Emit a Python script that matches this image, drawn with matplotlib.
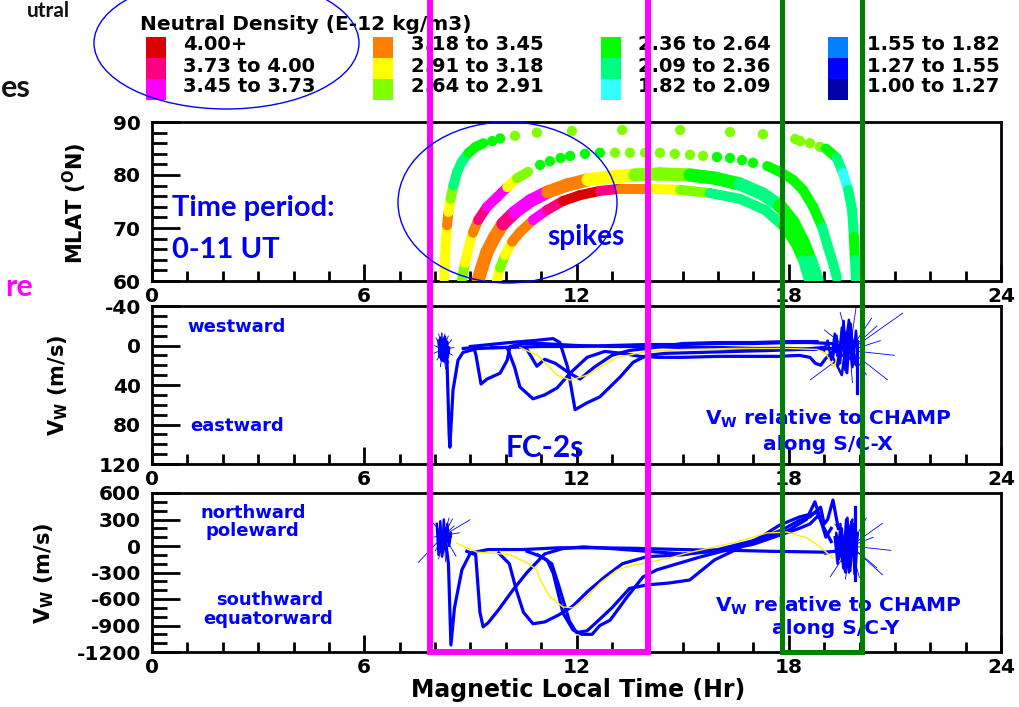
import numpy as np
import matplotlib
matplotlib.use("Agg")
from matplotlib import pyplot as plt
from matplotlib.colors import ListedColormap, BoundaryNorm
from matplotlib.collections import LineCollection
from matplotlib.patches import Ellipse
from matplotlib.ticker import MultipleLocator

# ---------------- density legend ----------------
dens_bounds = [1.00, 1.27, 1.55, 1.82, 2.09, 2.36, 2.64, 2.91, 3.18, 3.45, 3.73, 4.00, 99.0]
dens_colors = ['#0000AA', '#0000FF', '#0080FF', '#33FFFF', '#00FF80', '#00FF00',
               '#80FF00', '#FFFF00', '#FF8000', '#FF00FF', '#FF0080', '#DD0000']
dens_labels = ['1.00 to 1.27', '1.27 to 1.55', '1.55 to 1.82', '1.82 to 2.09',
               '2.09 to 2.36', '2.36 to 2.64', '2.64 to 2.91', '2.91 to 3.18',
               '3.18 to 3.45', '3.45 to 3.73', '3.73 to 4.00', '4.00+']

# ---------------- panel 1: passes (MLT hr, MLAT deg, density E-12 kg/m3) ----------------
# pass A (outermost)
a_leg1_mlt = [8.26, 8.27, 8.29, 8.31, 8.34, 8.38, 8.44, 8.52, 8.62, 8.76, 8.95, 9.15, 9.37]
a_leg1_lat = [60.5, 63.0, 65.5, 68.0, 70.5, 73.0, 75.5, 78.0, 80.5, 82.5, 84.2, 85.3, 86.0]
a_leg1_den = [3.0, 3.0, 3.0, 3.0, 3.3, 3.0, 2.75, 2.2, 2.2, 2.2, 2.5, 2.5, 2.5]
a_dots_mlt = [9.62, 9.84, 10.26, 10.88, 11.87, 13.29, 14.93, 16.34, 17.27, 18.18, 18.32, 18.60, 18.88]
a_dots_lat = [86.4, 86.9, 87.4, 88.0, 88.3, 88.5, 88.5, 88.1, 87.7, 86.8, 86.4, 86.0, 85.3]
a_dots_den = [2.5, 2.5, 2.75, 2.75, 2.75, 2.75, 2.75, 2.75, 2.75, 2.75, 2.75, 2.75, 2.75]
a_leg2_mlt = [19.05, 19.17, 19.36, 19.53, 19.68, 19.79, 19.84, 19.87, 19.90]
a_leg2_lat = [85.0, 84.3, 83.2, 80.4, 77.2, 73.4, 68.3, 64.0, 60.2]
a_leg2_den = [2.5, 2.5, 2.2, 1.95, 2.2, 2.2, 2.5, 2.2, 2.2]
# pass B
b_leg1_mlt = [8.76, 8.85, 8.93, 9.07, 9.22, 9.47, 9.75, 10.04, 10.32, 10.63]
b_leg1_lat = [60.2, 63.4, 65.8, 69.1, 71.5, 74.0, 75.8, 77.7, 79.4, 80.6]
b_leg1_den = [2.75, 3.0, 3.0, 3.3, 3.85, 3.6, 3.6, 3.0, 2.75, 2.75]
b_dots_mlt = [10.97, 11.25, 11.55, 11.82, 12.24, 12.66, 13.09, 13.51, 13.94, 14.36, 14.78,
              15.21, 15.58, 15.97, 16.34, 16.68, 16.99]
b_dots_lat = [81.9, 82.6, 83.2, 83.6, 84.0, 84.2, 84.2, 84.2, 84.2, 84.2, 84.0,
              83.8, 83.6, 83.4, 83.2, 82.8, 82.3]
b_dots_den = [2.5, 2.5, 2.5, 2.5, 2.5, 2.5, 2.75, 2.75, 2.75, 2.75, 2.75,
              2.75, 2.75, 2.5, 2.5, 2.5, 2.5]
b_leg2_mlt = [17.39, 17.75, 18.12, 18.40, 18.69, 18.94, 19.11, 19.25, 19.36]
b_leg2_lat = [81.7, 80.6, 79.1, 77.2, 74.0, 70.2, 66.4, 63.4, 60.6]
b_leg2_den = [2.5, 2.5, 2.5, 2.5, 2.5, 2.2, 2.2, 2.2, 2.2]
# pass C
c_mlt = [9.22, 9.33, 9.47, 9.67, 9.92, 10.26, 10.69, 11.19, 11.73, 12.33, 12.95, 13.65,
         14.36, 15.21, 15.92, 16.62, 17.27, 17.75, 18.12, 18.40, 18.63, 18.80]
c_lat = [60.2, 62.6, 65.5, 68.1, 70.8, 73.0, 75.1, 76.8, 78.1, 79.1, 79.6, 80.0,
         80.2, 80.0, 79.4, 78.3, 76.4, 74.2, 71.1, 67.4, 63.6, 60.2]
c_den = [3.3, 3.3, 3.3, 3.3, 3.85, 3.6, 3.6, 3.3, 3.3, 3.0, 3.0, 2.75,
         2.75, 2.5, 2.5, 2.2, 2.2, 2.5, 2.5, 2.5, 2.2, 2.2]
# pass D (spikes)
d_mlt = [9.75, 9.84, 9.98, 10.18, 10.40, 10.77, 11.17, 11.62, 12.10, 12.66, 13.23, 14.08,
         14.93, 15.77, 16.62, 17.33, 17.84, 18.18, 18.40, 18.57]
d_lat = [60.2, 62.5, 64.9, 67.4, 69.2, 71.5, 73.4, 75.1, 76.2, 77.0, 77.4, 77.4,
         77.2, 76.6, 75.5, 73.4, 70.4, 67.2, 64.0, 60.2]
d_den = [3.0, 2.75, 3.0, 3.3, 3.3, 3.6, 3.85, 4.1, 4.1, 3.85, 3.3, 3.0,
         2.75, 2.2, 2.2, 2.2, 2.5, 2.5, 2.2, 2.2]

# ---------------- panel 2: Vw along S/C-X (m/s) ----------------
x2_a = [8.25, 8.33, 8.40, 8.42, 8.51, 8.65, 8.79, 9.2, 10.0, 11.0, 12.0, 13.0, 14.0, 15.0, 16.0, 17.0, 18.0, 18.6, 19.2]
v2_a = [3, 5, 90, 103, 45, 15, 7, 3, 2, 1, 1, 0, -1, -1, -2, -2, -3, -3, -2]
x2_b = [8.8, 9.10, 9.16, 9.30, 9.47, 9.84, 10.04, 10.12, 10.5, 11.0, 12.0, 13.0, 14.0, 15.0, 16.0, 17.0, 18.0, 18.7, 19.2]
v2_b = [3, 2, 10, 39, 34, 28, 15, 1, -2, -2, 0, 1, 1, 2, 2, 3, 3, 4, 3]
x2_c = [9.6, 10.04, 10.25, 10.40, 10.77, 11.1, 11.45, 11.82, 12.3, 12.8, 13.3, 13.8, 14.3, 15.0,
        16.0, 17.0, 17.7, 18.3, 18.6, 18.75, 18.9, 19.05, 19.2, 19.3]
v2_c = [2, 2, 22, 42, 54, 50, 43, 28, 12, 6, 8, 11, 12, 12, 11, 11, 11, 10, 12, 18, 20, 13, 8, 6]
x2_d = [9.0, 10.12, 10.8, 11.34, 11.53, 11.75, 11.96, 12.30, 12.66, 13.23, 13.60, 13.99, 14.5, 15.5, 16.5, 17.5, 18.3, 19.0]
v2_d = [1, -3, -5, -7, -3, 22, 65, 58, 52, 32, 17, 10, 8, 7, 6, 5, 4, 2]
x2_e = [10.3, 10.6, 10.88, 11.1, 11.4, 11.8, 12.1, 12.5, 13.0, 13.5, 14.0, 15.0, 16.0, 17.0, 18.0, 18.8]
v2_e = [0, 4, 21, 14, 18, 28, 34, 22, 10, 5, 3, -2, -3, -3, -4, -4]
x2_yel = [10.4, 10.9, 11.45, 11.82, 12.3, 12.66, 13.15, 14.0, 15.0, 16.5, 18.0, 18.8, 19.05, 19.2, 19.3, 19.35]
v2_yel = [2, 10, 30, 35, 30, 22, 12, 6, 4, 3, 3, 4, 8, 18, 22, 12]
# noisy bursts: centre, ray tips, dense scribble
burst2a_c = (8.22, 4)
burst2a_mlt = [7.98, 8.02, 8.10, 8.18, 8.28, 8.38, 8.48, 8.55, 8.50, 8.40, 8.30, 8.15, 8.05, 7.96, 8.20, 8.35]
burst2a_vw = [0, -8, -12, -13, -12, -10, -6, 2, 10, 18, 24, 22, 15, 8, -13, 25]
scrib2a_mlt = [8.10, 8.13, 8.16, 8.19, 8.22, 8.25, 8.28, 8.31, 8.34, 8.37, 8.40, 8.36, 8.30, 8.24, 8.18, 8.12]
scrib2a_vw = [-5, 12, -8, 15, -6, 10, -9, 14, -4, 8, 2, 12, -6, 16, -3, 9]
burst2b_c = (19.73, 5)
burst2b_mlt = [21.23, 20.8, 19.45, 18.6, 19.0, 20.5, 21.0, 19.9, 20.2, 19.6, 20.6, 19.2, 19.8, 20.35]
burst2b_vw = [-33, 35, -34, 35, -16, -20, 10, -38, 30, 28, -5, 20, 38, -28]
scrib2b_mlt = [19.0, 19.1, 19.2, 19.3, 19.4, 19.5, 19.6, 19.7, 19.8, 19.9, 19.95, 19.85, 19.75,
               19.65, 19.55, 19.45, 19.35, 19.25, 19.5, 19.7, 19.9, 19.6, 19.4, 19.8]
scrib2b_vw = [5, -5, 15, -12, 20, -18, 25, -20, 22, -15, 10, 18, -22, 28, -25, 18, -10, 12, 30, -26,
              20, -12, 8, 14]
drop2_mlt = [19.93, 19.93]
drop2_vw = [-5, 48]

# ---------------- panel 3: Vw along S/C-Y (m/s) ----------------
x3_a = [8.30, 8.38, 8.45, 8.55, 8.76, 9.0, 9.5, 10.5, 11.5, 12.5, 13.5, 14.5, 15.5, 16.5, 17.5, 18.3, 19.0, 19.3]
v3_a = [50, -200, -1120, -700, -270, -80, -40, -40, -20, -20, -25, -35, -45, -50, -60, -65, -70, -60]
x3_b = [8.9, 9.15, 9.27, 9.36, 9.5, 9.8, 10.2, 10.6, 11.1, 11.6, 12.2, 13.0, 14.0, 15.0, 16.0, 17.0, 17.8, 18.3, 18.6, 18.8]
v3_b = [-60, -100, -750, -915, -870, -720, -500, -300, -90, -30, -10, -30, -60, -90, -60, 20, 130, 200, 250, 330]
x3_c = [9.8, 10.1, 10.3, 10.5, 10.77, 11.1, 11.5, 11.9, 12.3, 12.8, 13.3, 14.0, 15.0, 16.0, 17.0, 17.8,
        18.3, 18.6, 18.9, 19.0, 19.1, 19.25, 19.4]
v3_c = [-80, -200, -500, -750, -880, -860, -780, -680, -520, -350, -200, -120, -100, -40, 60, 180,
        290, 330, 440, 250, 300, 520, 200]
x3_d = [10.9, 11.17, 11.34, 11.62, 11.9, 12.15, 12.44, 12.66, 12.95, 13.43, 13.88, 14.27, 14.73, 15.49,
        16.5, 17.4, 18.0, 18.5, 18.74, 18.9, 19.05, 19.2]
v3_d = [-100, -160, -306, -760, -950, -1000, -1000, -900, -840, -577, -350, -270, -215, -125,
        -20, 90, 180, 300, 500, 300, 100, 200]
x3_e = [10.6, 11.0, 11.3, 11.5, 11.8, 12.0, 12.3, 12.6, 13.0, 13.5, 14.0, 14.6, 15.2, 15.9, 16.6, 17.2,
        17.75, 18.3, 18.8, 19.0, 19.2]
v3_e = [-60, -120, -200, -450, -850, -980, -960, -850, -700, -480, -440, -420, -385, -158, -23, 100,
        238, 328, 380, 200, 50]
x3_yel = [8.62, 9.19, 9.64, 10.12, 10.6, 10.88, 10.97, 11.25, 11.62, 11.9, 12.3, 12.66, 13.15, 13.6,
          13.99, 14.73, 15.12, 16.42, 17.38, 17.95, 18.52, 18.88, 19.25]
v3_yel = [30, -70, -80, -100, -190, -270, -380, -577, -690, -700, -577, -420, -270, -215,
          -190, -125, -80, 34, 147, 158, 90, -10, -135]
burst3a_c = (8.25, 120)
burst3a_mlt = [7.52, 9.0, 7.9, 8.5, 8.1, 8.6, 7.95, 8.4, 8.3, 8.7, 8.0, 8.55]
burst3a_vw = [-190, 300, 280, 310, -150, -120, 100, 320, -180, 150, -60, 230]
scrib3a_mlt = [8.05, 8.1, 8.15, 8.2, 8.25, 8.3, 8.35, 8.4, 8.45, 8.4, 8.3, 8.2, 8.1, 8.22, 8.34]
scrib3a_vw = [250, -100, 280, -80, 300, -50, 250, 0, 150, 50, 200, -120, 180, -20, 120]
burst3b_c = (19.75, 0)
burst3b_mlt = [20.66, 20.66, 19.17, 20.0, 20.4, 19.3, 20.9, 19.6, 20.2, 19.0, 20.5, 19.9]
burst3b_vw = [260, -330, -350, -360, 100, 250, -50, -380, 320, -100, -250, 350]
scrib3b_mlt = [19.3, 19.38, 19.46, 19.54, 19.62, 19.7, 19.78, 19.86, 19.94, 19.9, 19.82, 19.74,
               19.66, 19.58, 19.5, 19.42, 19.34, 19.6, 19.8, 19.5, 19.7, 19.9]
scrib3b_vw = [100, -200, 250, -250, 300, -300, 280, -320, 150, -200, 250, -280, 320, -250, 200,
              -150, 150, -300, 300, -100, 180, -60]
drop3_mlt = [19.88, 19.88]
drop3_vw = [440, -385]

# ---------------- figure ----------------
W, H = 1019, 707
plt.rcParams['font.family'] = ['DejaVu Sans']
plt.rcParams['font.weight'] = 'bold'
plt.rcParams['mathtext.fontset'] = 'dejavusans'
plt.rcParams['mathtext.default'] = 'bf'
plt.rcParams['axes.unicode_minus'] = False

fig = plt.figure(figsize=(W / 100, H / 100), dpi=100)
fig.patch.set_facecolor('white')

def fx(x):
    return x / W

def fy(y):
    return 1 - y / H

cmap = ListedColormap(dens_colors)
norm = BoundaryNorm(dens_bounds, cmap.N)
BLUE = '#0000FF'
SLIDE = 'Lato'

def panel(top, bottom, ylo, yhi, major, minor):
    ax = fig.add_axes([fx(152), fy(bottom), (1001 - 152) / W, (bottom - top) / H])
    ax.set_xlim(0, 24)
    ax.set_ylim(ylo, yhi)
    ax.xaxis.set_major_locator(MultipleLocator(6))
    ax.xaxis.set_minor_locator(MultipleLocator(1))
    ax.yaxis.set_major_locator(MultipleLocator(major))
    ax.yaxis.set_minor_locator(MultipleLocator(minor))
    ax.tick_params(which='both', direction='in', width=2, color='black')
    ax.tick_params(axis='x', which='major', length=12, pad=4, labelsize=14.5)
    ax.tick_params(axis='x', which='minor', length=7)
    ax.tick_params(axis='y', which='major', length=20, pad=8, labelsize=14.5)
    ax.tick_params(axis='y', which='minor', length=11)
    for s in ax.spines.values():
        s.set_linewidth(2)
    return ax

def arc(ax, mlt, lat, den, lw):
    pts = np.column_stack([mlt, lat])
    segs = np.stack([pts[:-1], pts[1:]], axis=1)
    lc = LineCollection(segs, colors=cmap(norm(den[:-1])), linewidths=lw,
                        capstyle='round', joinstyle='round', zorder=3)
    ax.add_collection(lc)

def dots(ax, mlt, lat, den):
    ax.scatter(mlt, lat, c=den, cmap=cmap, norm=norm, s=55, linewidths=0, zorder=3)

def burst(ax, centre, tips_x, tips_y, sx, sy):
    segs = [[centre, (tx, ty)] for tx, ty in zip(tips_x, tips_y)]
    ax.add_collection(LineCollection(segs, colors=BLUE, linewidths=0.6, zorder=4))
    ax.plot(sx, sy, color=BLUE, lw=1.8, zorder=4)

# panel 1
ax1 = panel(122, 281, 60, 90, 10, 2)
arc(ax1, a_leg1_mlt, a_leg1_lat, a_leg1_den, 7.2)
dots(ax1, a_dots_mlt, a_dots_lat, a_dots_den)
arc(ax1, a_leg2_mlt, a_leg2_lat, a_leg2_den, 7.2)
arc(ax1, b_leg1_mlt, b_leg1_lat, b_leg1_den, 7.2)
dots(ax1, b_dots_mlt, b_dots_lat, b_dots_den)
arc(ax1, b_leg2_mlt, b_leg2_lat, b_leg2_den, 7.2)
arc(ax1, c_mlt, c_lat, c_den, 9.5)
arc(ax1, d_mlt, d_lat, d_den, 7.2)

# panel 2
ax2 = panel(306, 464, 120, -40, 40, 10)
for xs, vs in [(x2_a, v2_a), (x2_b, v2_b), (x2_c, v2_c), (x2_d, v2_d), (x2_e, v2_e)]:
    ax2.plot(xs, vs, color=BLUE, lw=2.3, solid_joinstyle='round', zorder=3)
ax2.plot(x2_yel, v2_yel, color='#FFEE00', lw=1.0, zorder=5)
burst(ax2, burst2a_c, burst2a_mlt, burst2a_vw, scrib2a_mlt, scrib2a_vw)
burst(ax2, burst2b_c, burst2b_mlt, burst2b_vw, scrib2b_mlt, scrib2b_vw)
ax2.plot(drop2_mlt, drop2_vw, color=BLUE, lw=2.3, zorder=4)

# panel 3
ax3 = panel(493, 652, -1200, 600, 300, 100)
for xs, vs in [(x3_a, v3_a), (x3_b, v3_b), (x3_c, v3_c), (x3_d, v3_d), (x3_e, v3_e)]:
    ax3.plot(xs, vs, color=BLUE, lw=2.3, solid_joinstyle='round', zorder=3)
ax3.plot(x3_yel, v3_yel, color='#FFEE00', lw=1.0, zorder=5)
burst(ax3, burst3a_c, burst3a_mlt, burst3a_vw, scrib3a_mlt, scrib3a_vw)
burst(ax3, burst3b_c, burst3b_mlt, burst3b_vw, scrib3b_mlt, scrib3b_vw)
ax3.plot(drop3_mlt, drop3_vw, color=BLUE, lw=2.3, zorder=4)

# axis labels
fig.text(fx(75), fy(203), r'MLAT ($^{O}$N)', rotation=90, ha='center', va='center', fontsize=15)
fig.text(fx(58), fy(385), r'V$_{W}$ (m/s)', rotation=90, ha='center', va='center', fontsize=15)
fig.text(fx(44), fy(573), r'V$_{W}$ (m/s)', rotation=90, ha='center', va='center', fontsize=15)
fig.text(fx(578), fy(697), 'Magnetic Local Time (Hr)', ha='center', va='baseline', fontsize=17)

# in-panel notes
note = dict(color=BLUE, fontsize=13, va='baseline')
big = dict(color=BLUE, fontsize=14.5, va='baseline')
fig.text(fx(187), fy(332), 'westward', ha='left', **note)
fig.text(fx(190), fy(431), 'eastward', ha='left', **note)
fig.text(fx(828), fy(425), r'V$_{W}$ relative to CHAMP', ha='center', **big)
fig.text(fx(828), fy(450), 'along S/C-X', ha='center', **big)
fig.text(fx(253), fy(518), 'northward', ha='center', **note)
fig.text(fx(252), fy(536), 'poleward', ha='center', **note)
fig.text(fx(270), fy(605), 'southward', ha='center', **note)
fig.text(fx(268), fy(624), 'equatorward', ha='center', **note)
fig.text(fx(838), fy(612), r'V$_{W}$ relative to CHAMP', ha='center', **big)
fig.text(fx(836), fy(634), 'along S/C-Y', ha='center', **big)

# density legend
fig.text(fx(140), fy(29.5), 'Neutral Density (E-12 kg/m3)', ha='left', va='baseline', fontsize=14.5)
col_sw = [146, 373, 601, 828]
col_tx = [183, 411, 638, 867]
row_top = [37, 58, 79]
row_base = [50, 71.5, 92.5]
for k in range(12):
    i = 11 - k
    col, row = k // 3, k % 3
    fig.add_artist(plt.Rectangle((fx(col_sw[col]), fy(row_top[row] + 21)), 20 / W, 21 / H,
                                 transform=fig.transFigure, facecolor=dens_colors[i],
                                 edgecolor='none'))
    fig.text(fx(col_tx[col]), fy(row_base[row]), dens_labels[i], ha='left', va='baseline',
             fontsize=14)

# slide overlay: boxes, ellipses, notes
fig.add_artist(plt.Line2D([fx(430), fx(430), fx(648), fx(648)], [fy(-10), fy(652), fy(652), fy(-10)],
                          transform=fig.transFigure, color='#FF00FF', lw=4.3,
                          solid_joinstyle='miter', zorder=10))
fig.add_artist(plt.Line2D([fx(782), fx(782), fx(862), fx(862)], [fy(-10), fy(652), fy(652), fy(-10)],
                          transform=fig.transFigure, color='#008000', lw=3.6,
                          solid_joinstyle='miter', zorder=10))
fig.add_artist(Ellipse((fx(226.5), fy(43)), 265 / W, 132 / H, transform=fig.transFigure,
                       fill=False, edgecolor='#0000FF', lw=1.0, zorder=10))
fig.add_artist(Ellipse((fx(507.5), fy(202.5)), 219 / W, 161 / H, transform=fig.transFigure,
                       fill=False, edgecolor='#0000FF', lw=1.0, zorder=10))

slide = dict(family=SLIDE, fontweight='bold', zorder=11)
fig.text(fx(172), fy(216), 'Time period:', color='#0000EE', fontsize=21, va='baseline', **slide)
fig.text(fx(172), fy(258), '0-11 UT', color='#0000EE', fontsize=21, va='baseline', **slide)
fig.text(fx(547), fy(245), 'spikes', color='#0000EE', fontsize=20, va='baseline', **slide)
fig.text(fx(506), fy(457), 'FC-2s', color='#0000EE', fontsize=21.5, va='baseline', **slide)
fig.text(fx(70), fy(1), 'utral', color='#111111', fontsize=15, ha='right', va='top', **slide)
fig.text(fx(1), fy(97), 'es', color='#111111', fontsize=22, ha='left', va='baseline', **slide)
fig.text(fx(33), fy(296), 're', color='#FF00FF', fontsize=22, ha='right', va='baseline', **slide)

fig.savefig('out.png', dpi=100)
